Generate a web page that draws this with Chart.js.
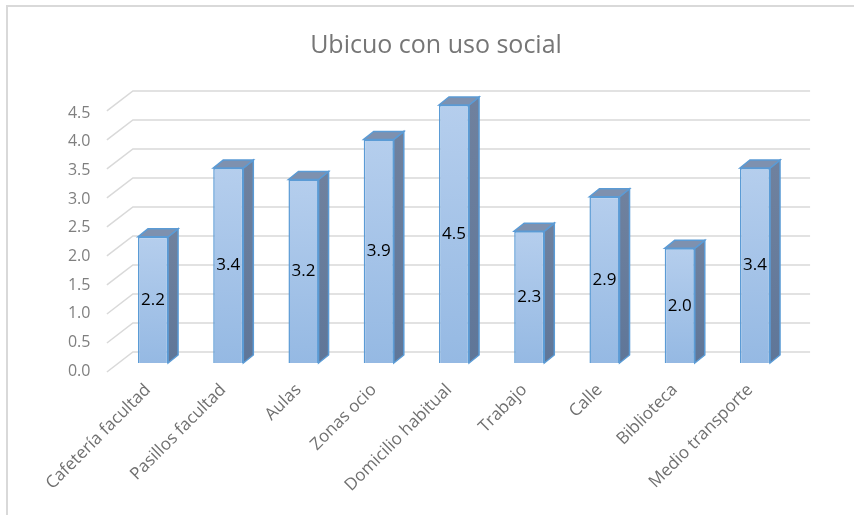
<!DOCTYPE html>
<html lang="es">
<head>
<meta charset="UTF-8">
<title>Ubicuo con uso social</title>
<script src="https://cdn.jsdelivr.net/npm/chart.js@4.4.1/dist/chart.umd.min.js"></script>
<style>
    html, body { margin: 0; padding: 0; background: #ffffff; }
    #chartBox { width: 854px; height: 515px; }
</style>
</head>
<body>
<div id="chartBox"><canvas id="ubicuoChart" width="854" height="515"></canvas></div>
<script>
// 数据
const categories = [
    'Cafetería facultad', 'Pasillos facultad', 'Aulas', 'Zonas ocio',
    'Domicilio habitual', 'Trabajo', 'Calle', 'Biblioteca', 'Medio transporte'
];
const values = [2.2, 3.4, 3.2, 3.9, 4.5, 2.3, 2.9, 2.0, 3.4];
const yTicks = [0, 0.5, 1.0, 1.5, 2.0, 2.5, 3.0, 3.5, 4.0, 4.5];

const FONT = "'Open Sans', sans-serif";
const DEPTH_X = 10;   // 柱子厚度
const DEPTH_Y = 8;
const WALL_X = 17.5;  // 背景墙偏移

// 外框
const framePlugin = {
    id: 'frame',
    beforeDraw(chart) {
        const ctx = chart.ctx;
        ctx.save();
        ctx.fillStyle = '#ffffff';
        ctx.fillRect(0, 0, chart.width, chart.height);
        ctx.strokeStyle = '#d9d9d9';
        ctx.lineWidth = 2;
        ctx.beginPath();
        ctx.moveTo(7, chart.height);
        ctx.lineTo(7, 6);
        ctx.lineTo(chart.width, 6);
        ctx.stroke();
        ctx.restore();
    }
};

// 背景墙网格线
const wallPlugin = {
    id: 'wall',
    beforeDatasetsDraw(chart) {
        const { ctx, chartArea } = chart;
        const y = chart.scales.y;
        const base = y.getPixelForValue(0);
        ctx.save();
        ctx.strokeStyle = '#d9d9d9';
        ctx.lineWidth = 1.5;
        yTicks.forEach(v => {
            const yf = y.getPixelForValue(v);
            const yb = base - 11 - (base - yf) * 1.012;
            ctx.beginPath();
            ctx.moveTo(chartArea.left - 8.5, yb + 20);
            ctx.lineTo(chartArea.left + WALL_X, yb);
            ctx.lineTo(chartArea.right + WALL_X, yb);
            ctx.stroke();
        });
        ctx.restore();
    }
};

// 立体柱子的侧面、顶面和数值
const bar3dPlugin = {
    id: 'bar3d',
    afterDatasetsDraw(chart) {
        const ctx = chart.ctx;
        const meta = chart.getDatasetMeta(0);
        ctx.save();
        ctx.lineWidth = 1.5;
        ctx.strokeStyle = '#5b9bd5';
        meta.data.forEach((bar, i) => {
            const { x, y, base, width } = bar.getProps(['x', 'y', 'base', 'width'], true);
            const l = x - width / 2;
            const r = x + width / 2;

            const side = ctx.createLinearGradient(0, y, 0, base);
            side.addColorStop(0, '#6f819e');
            side.addColorStop(1, '#5f7698');
            ctx.fillStyle = side;
            ctx.beginPath();
            ctx.moveTo(r, y);
            ctx.lineTo(r + DEPTH_X, y - DEPTH_Y);
            ctx.lineTo(r + DEPTH_X, base - DEPTH_Y);
            ctx.lineTo(r, base);
            ctx.closePath();
            ctx.fill();
            ctx.stroke();

            ctx.fillStyle = '#7e91af';
            ctx.beginPath();
            ctx.moveTo(l, y);
            ctx.lineTo(l + DEPTH_X, y - DEPTH_Y);
            ctx.lineTo(r + DEPTH_X, y - DEPTH_Y);
            ctx.lineTo(r, y);
            ctx.closePath();
            ctx.fill();
            ctx.stroke();

            ctx.fillStyle = '#000000';
            ctx.font = '17px ' + FONT;
            ctx.textAlign = 'center';
            ctx.textBaseline = 'middle';
            ctx.fillText(values[i].toFixed(1), x, (y + base) / 2);
        });
        ctx.restore();
    }
};

function frontFill(context) {
    const chart = context.chart;
    const yScale = chart.scales.y;
    if (!chart.chartArea || !yScale) return '#a6c4e8';
    const top = yScale.getPixelForValue(values[context.dataIndex]);
    const bottom = yScale.getPixelForValue(0);
    const g = chart.ctx.createLinearGradient(0, top, 0, bottom);
    g.addColorStop(0, '#b5ceed');
    g.addColorStop(1, '#95b9e3');
    return g;
}

const ctx = document.getElementById('ubicuoChart').getContext('2d');
const ubicuoChart = new Chart(ctx, {
    type: 'bar',
    data: {
        labels: categories,
        datasets: [{
            label: 'Ubicuo con uso social',
            data: values,
            backgroundColor: frontFill,
            borderColor: '#5b9bd5',
            borderWidth: 1.5,
            categoryPercentage: 0.4,
            barPercentage: 1.0
        }]
    },
    options: {
        responsive: false,
        animation: false,
        layout: { padding: { left: 18, right: 0, top: 0, bottom: 0 } },
        plugins: {
            legend: { display: false },
            tooltip: { enabled: false },
            title: {
                display: true,
                text: 'Ubicuo con uso social',
                color: '#767676',
                font: { family: FONT, size: 25, weight: 'normal' },
                padding: { top: 31, bottom: 44 }
            }
        },
        scales: {
            x: {
                grid: { display: false, drawTicks: false },
                border: { display: false },
                ticks: {
                    color: '#707070',
                    font: { family: FONT, size: 17 },
                    minRotation: 45,
                    maxRotation: 45,
                    autoSkip: false,
                    padding: 17,
                    labelOffset: -5
                },
                afterFit(scale) { scale.height = 152; }
            },
            y: {
                min: 0,
                max: 4.5,
                grid: { display: false, drawTicks: false },
                border: { display: false },
                ticks: {
                    color: '#7f7f7f',
                    font: { family: FONT, size: 16 },
                    padding: 25,
                    labelOffset: 8,
                    callback: v => v.toFixed(1)
                },
                afterBuildTicks(scale) {
                    scale.ticks = yTicks.map(v => ({ value: v }));
                },
                afterFit(scale) { scale.width = 97.4; }
            },
            y2: {
                position: 'right',
                grid: { display: false },
                border: { display: false },
                ticks: { display: false },
                afterFit(scale) { scale.width = 61.4; }
            }
        }
    },
    plugins: [framePlugin, wallPlugin, bar3dPlugin]
});
</script>
</body>
</html>
